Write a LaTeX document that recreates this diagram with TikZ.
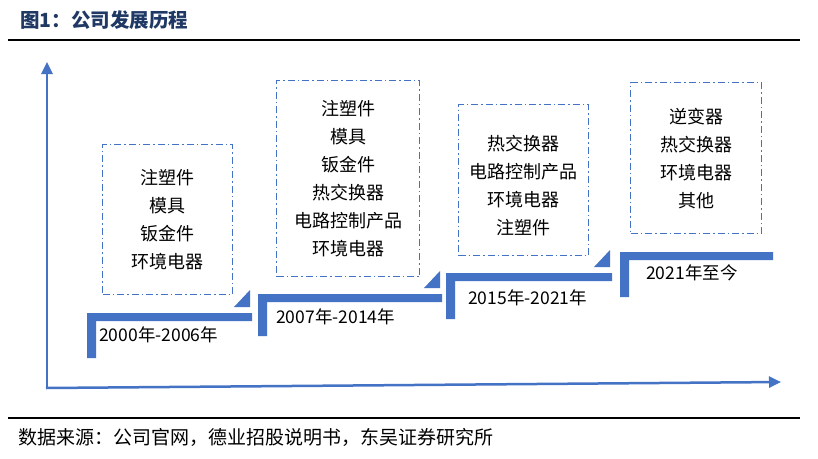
\documentclass[tikz,border=0pt]{standalone}
\usepackage{fontspec}
\setmainfont{Noto Sans CJK SC}
\usetikzlibrary{arrows.meta}
\definecolor{stepblue}{HTML}{4472C4}
\definecolor{navy}{HTML}{1F3864}
\tikzset{
  stepfill/.style={fill=stepblue, draw=none},
  ddbox/.style={draw=stepblue, line width=1.4pt, dash pattern=on 7pt off 3pt on 1.5pt off 3pt,
     font=\fontsize{18}{28}\selectfont, align=center, inner sep=0pt, anchor=north west},
  yearlbl/.style={font=\fontsize{17.5}{20}\selectfont, anchor=west, inner sep=0pt},
  axis/.style={draw=stepblue, line width=2.5pt, -{Triangle[length=12pt,width=11pt]}},
  rulel/.style={draw=black, line width=2.2pt}
}
\newcommand{\stepshape}[4]{%
  \fill[stepblue] (#1,#2) -- (#3,#2) -- (#3,#2+8) -- (#1+9,#2+8) -- (#1+9,#4) -- (#1,#4) -- cycle;}
\newcommand{\steptri}[2]{%
  \fill[stepblue] (#1-18,#2-6) -- (#1-2,#2-6) -- (#1-2,#2-23) -- cycle;}
\begin{document}
\begin{tikzpicture}[x=1pt,y=-1pt]
\useasboundingbox (0,0) rectangle (818,458);
\fill[white] (0,0) rectangle (818,458);
% title
\node[anchor=west, inner sep=0pt, font=\fontsize{19.5}{22}\selectfont\bfseries, text=navy] (title) at (20,20) {图1：公司发展历程};
\coordinate (tl) at (8,40); \coordinate (tr) at (800,40);
\draw[rulel] (tl) -- (tr);
% axes
\coordinate (O) at (47,388);
\coordinate (Ytip) at (47,62);
\coordinate (Xs) at (46,388);
\coordinate (Xtip) at (781,382);
\draw[axis] (O) -- (Ytip);
\draw[axis] (Xs) -- (Xtip);
% steps
\stepshape{87}{313}{252}{358}
\steptri{252}{313}
\stepshape{258}{294}{442}{336}
\steptri{442}{294}
\stepshape{446}{273}{612}{319}
\steptri{612}{273}
\stepshape{620}{252}{773}{297}
% year labels
\node[yearlbl] (y1) at (99,335) {2000年-2006年};
\node[yearlbl] (y2) at (276,317) {2007年-2014年};
\node[yearlbl] (y3) at (468,298) {2015年-2021年};
\node[yearlbl] (y4) at (646,273) {2021年至今};
% boxes
\node[ddbox, minimum width=130pt, minimum height=150pt] (b1) at (102,144) {注塑件\\模具\\钣金件\\环境电器};
\node[ddbox, minimum width=143pt, minimum height=196pt] (b2) at (276,80) {注塑件\\模具\\钣金件\\热交换器\\电路控制产品\\环境电器};
\node[ddbox, minimum width=130pt, minimum height=151pt] (b3) at (458,104) {\rule{0pt}{26pt}热交换器\\电路控制产品\\环境电器\\注塑件};
\node[ddbox, minimum width=131pt, minimum height=151pt] (b4) at (630,82) {逆变器\\热交换器\\环境电器\\其他};
% footer
\coordinate (fl) at (8,418); \coordinate (fr) at (800,418);
\draw[rulel] (fl) -- (fr);
\node[anchor=west, inner sep=0pt, font=\fontsize{19}{22}\selectfont] (src) at (18,437) {数据来源：公司官网，德业招股说明书，东吴证券研究所};
\end{tikzpicture}
\end{document}
